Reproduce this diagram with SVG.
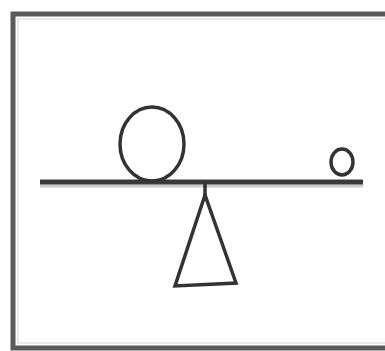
<svg xmlns="http://www.w3.org/2000/svg" width="385" height="351" viewBox="0 0 385 351">
<style>
.ln{fill:none;stroke:#333;stroke-width:3.5}
</style>
<rect width="385" height="351" fill="#fff"/>
<g id="frame">
<rect x="13" y="14" width="380" height="334" fill="none" stroke="#5a5a5a" stroke-width="5"/>
<rect x="18" y="19" width="370" height="324" fill="none" stroke="#e8e8e8" stroke-width="2"/>
</g>
<g id="connectors">
<line x1="40" y1="186" x2="363" y2="186" stroke="#ccc" stroke-width="3"/>
<line x1="40" y1="182" x2="363" y2="182" stroke="#3a3a3a" stroke-width="5"/>
<line x1="205" y1="182" x2="205" y2="197" class="ln"/>
</g>
<g id="big-ball"><ellipse cx="152" cy="144" rx="32" ry="37" class="ln"/></g>
<g id="small-ball"><ellipse cx="342" cy="162" rx="11" ry="13" class="ln" stroke-width="4"/></g>
<g id="fulcrum"><polygon points="205,195 175,286 236,283" class="ln" stroke-linejoin="miter"/></g>
</svg>
